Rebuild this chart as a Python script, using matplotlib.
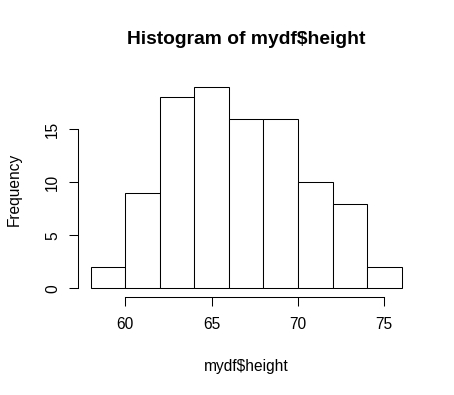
import matplotlib
matplotlib.use("Agg")
import matplotlib.pyplot as plt
import numpy as np

# bin edges and counts
edges = [58, 60, 62, 64, 66, 68, 70, 72, 74, 76]
counts = [2, 9, 18, 19, 16, 16, 10, 8, 2]
xticks = [60, 65, 70, 75]
yticks = [0, 5, 10, 15]

plt.rcParams['font.family'] = ['Liberation Sans', 'DejaVu Sans']

W, H = 454, 395
fig = plt.figure(figsize=(W / 100, H / 100), dpi=100)
# plot region as R lays it out (4% extension on both axes)
left, right, top, bottom = 78.4, 414.0, 78.8, 296.5
ax = fig.add_axes([left / W, 1 - bottom / H, (right - left) / W, (bottom - top) / H])

e = np.array(edges, dtype=float)
ax.bar(e[:-1], counts, width=np.diff(e), align='edge', facecolor='white',
       edgecolor='black', linewidth=0.75)

xr = e[-1] - e[0]
ax.set_xlim(e[0] - 0.04 * xr, e[-1] + 0.04 * xr)
ymax = max(counts)
ax.set_ylim(-0.04 * ymax, ymax * 1.04)

for s in ['top', 'right']:
    ax.spines[s].set_visible(False)
for s in ['left', 'bottom']:
    ax.spines[s].set_linewidth(0.75)
ax.spines['bottom'].set_bounds(xticks[0], xticks[-1])
ax.spines['left'].set_bounds(yticks[0], yticks[-1])

ax.set_xticks(xticks)
ax.set_yticks(yticks)
ax.set_yticklabels([str(v) for v in yticks], rotation=90, va='center')
ax.tick_params(axis='both', length=6.5, width=0.75, labelsize=11.2)
ax.tick_params(axis='x', pad=8.5)
ax.tick_params(axis='y', pad=6.7)

fig.text(246 / W, 1 - 40 / H, 'Histogram of mydf$height', ha='center', va='center',
         fontsize=13.9, fontweight='bold')
fig.text(246 / W, 1 - 367 / H, 'mydf$height', ha='center', va='center', fontsize=11.2)
fig.text(14 / W, 1 - 189 / H, 'Frequency', ha='center', va='center', rotation=90,
         fontsize=11.2)

fig.savefig('out.png', dpi=100)
